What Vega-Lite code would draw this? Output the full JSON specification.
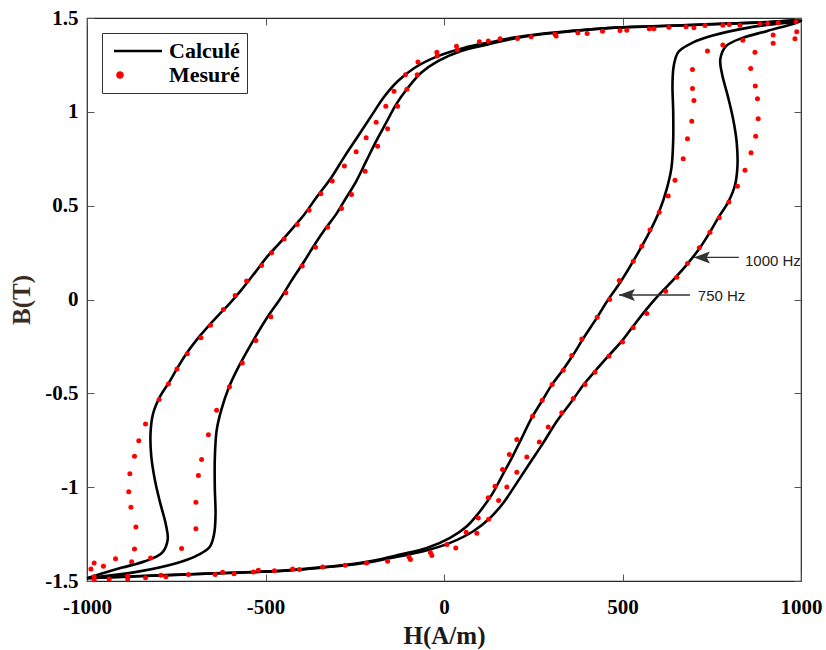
{
  "$schema": "https://vega.github.io/schema/vega-lite/v6.json",
  "autosize": {"type": "none"},
  "width": 714,
  "height": 563,
  "padding": {"left": 87, "top": 18, "right": 25, "bottom": 69},
  "background": "white",
  "config": {
    "view": {"stroke": "#262626", "strokeWidth": 1.2},
    "axis": {"grid": false, "domain": false, "labelFlush": false, "labelOverlap": false, "labelFont": "Liberation Serif", "labelFontWeight": "bold", "labelFontSize": 21, "labelColor": "#000000", "titleFont": "Liberation Serif", "titleFontWeight": "bold", "titleFontSize": 25, "tickColor": "#555555", "tickSize": -7, "tickWidth": 1}
  },
  "datasets": {
    "calc": [
      {"f":750,"i":1,"H":-1000,"B":-1.485},{"f":750,"i":2,"H":-900,"B":-1.477},{"f":750,"i":3,"H":-800,"B":-1.470},{"f":750,"i":4,"H":-700,"B":-1.463},{"f":750,"i":5,"H":-600,"B":-1.456},{"f":750,"i":6,"H":-460,"B":-1.446},{"f":750,"i":7,"H":-350,"B":-1.428},{"f":750,"i":8,"H":-273,"B":-1.413},{"f":750,"i":9,"H":-200,"B":-1.392},{"f":750,"i":10,"H":-123,"B":-1.359},{"f":750,"i":11,"H":-48,"B":-1.324},{"f":750,"i":12,"H":17,"B":-1.270},{"f":750,"i":13,"H":64,"B":-1.208},{"f":750,"i":14,"H":101,"B":-1.128},{"f":750,"i":15,"H":134,"B":-1.040},{"f":750,"i":16,"H":162,"B":-0.942},{"f":750,"i":17,"H":190,"B":-0.844},{"f":750,"i":18,"H":218,"B":-0.737},{"f":750,"i":19,"H":246,"B":-0.630},{"f":750,"i":20,"H":274,"B":-0.542},{"f":750,"i":21,"H":302,"B":-0.455},{"f":750,"i":22,"H":332,"B":-0.378},{"f":750,"i":23,"H":360,"B":-0.300},{"f":750,"i":24,"H":390,"B":-0.208},{"f":750,"i":25,"H":428,"B":-0.098},{"f":750,"i":26,"H":460,"B":0.000},{"f":750,"i":27,"H":493,"B":0.089},{"f":750,"i":28,"H":530,"B":0.204},{"f":750,"i":29,"H":577,"B":0.364},{"f":750,"i":30,"H":603,"B":0.470},{"f":750,"i":31,"H":624,"B":0.590},{"f":750,"i":32,"H":637,"B":0.700},{"f":750,"i":33,"H":642,"B":0.850},{"f":750,"i":34,"H":642,"B":1.000},{"f":750,"i":35,"H":640,"B":1.150},{"f":750,"i":36,"H":644,"B":1.250},{"f":750,"i":37,"H":657,"B":1.320},{"f":750,"i":38,"H":698,"B":1.370},{"f":750,"i":39,"H":750,"B":1.405},{"f":750,"i":40,"H":857,"B":1.450},{"f":750,"i":41,"H":1000,"B":1.485},
      {"f":750,"i":42,"H":900,"B":1.477},{"f":750,"i":43,"H":800,"B":1.470},{"f":750,"i":44,"H":700,"B":1.463},{"f":750,"i":45,"H":600,"B":1.456},{"f":750,"i":46,"H":460,"B":1.446},{"f":750,"i":47,"H":350,"B":1.428},{"f":750,"i":48,"H":273,"B":1.413},{"f":750,"i":49,"H":200,"B":1.392},{"f":750,"i":50,"H":123,"B":1.359},{"f":750,"i":51,"H":48,"B":1.324},{"f":750,"i":52,"H":-17,"B":1.270},{"f":750,"i":53,"H":-64,"B":1.208},{"f":750,"i":54,"H":-101,"B":1.128},{"f":750,"i":55,"H":-134,"B":1.040},{"f":750,"i":56,"H":-162,"B":0.942},{"f":750,"i":57,"H":-190,"B":0.844},{"f":750,"i":58,"H":-218,"B":0.737},{"f":750,"i":59,"H":-246,"B":0.630},{"f":750,"i":60,"H":-274,"B":0.542},{"f":750,"i":61,"H":-302,"B":0.455},{"f":750,"i":62,"H":-332,"B":0.378},{"f":750,"i":63,"H":-360,"B":0.300},{"f":750,"i":64,"H":-390,"B":0.208},{"f":750,"i":65,"H":-428,"B":0.098},{"f":750,"i":66,"H":-460,"B":0.000},{"f":750,"i":67,"H":-493,"B":-0.089},{"f":750,"i":68,"H":-530,"B":-0.204},{"f":750,"i":69,"H":-577,"B":-0.364},{"f":750,"i":70,"H":-603,"B":-0.470},{"f":750,"i":71,"H":-624,"B":-0.590},{"f":750,"i":72,"H":-637,"B":-0.700},{"f":750,"i":73,"H":-642,"B":-0.850},{"f":750,"i":74,"H":-642,"B":-1.000},{"f":750,"i":75,"H":-640,"B":-1.150},{"f":750,"i":76,"H":-644,"B":-1.250},{"f":750,"i":77,"H":-657,"B":-1.320},{"f":750,"i":78,"H":-698,"B":-1.370},{"f":750,"i":79,"H":-750,"B":-1.405},{"f":750,"i":80,"H":-857,"B":-1.450},{"f":750,"i":81,"H":-1000,"B":-1.485},
      {"f":1000,"i":1,"H":-1000,"B":-1.485},{"f":1000,"i":2,"H":-900,"B":-1.478},{"f":1000,"i":3,"H":-800,"B":-1.471},{"f":1000,"i":4,"H":-700,"B":-1.464},{"f":1000,"i":5,"H":-600,"B":-1.457},{"f":1000,"i":6,"H":-460,"B":-1.447},{"f":1000,"i":7,"H":-350,"B":-1.430},{"f":1000,"i":8,"H":-273,"B":-1.416},{"f":1000,"i":9,"H":-200,"B":-1.397},{"f":1000,"i":10,"H":-123,"B":-1.368},{"f":1000,"i":11,"H":-58,"B":-1.342},{"f":1000,"i":12,"H":17,"B":-1.297},{"f":1000,"i":13,"H":82,"B":-1.235},{"f":1000,"i":14,"H":129,"B":-1.164},{"f":1000,"i":15,"H":166,"B":-1.084},{"f":1000,"i":16,"H":204,"B":-0.977},{"f":1000,"i":17,"H":241,"B":-0.870},{"f":1000,"i":18,"H":278,"B":-0.764},{"f":1000,"i":19,"H":316,"B":-0.649},{"f":1000,"i":20,"H":358,"B":-0.542},{"f":1000,"i":21,"H":393,"B":-0.449},{"f":1000,"i":22,"H":423,"B":-0.382},{"f":1000,"i":23,"H":460,"B":-0.302},{"f":1000,"i":24,"H":498,"B":-0.222},{"f":1000,"i":25,"H":530,"B":-0.142},{"f":1000,"i":26,"H":568,"B":-0.050},{"f":1000,"i":27,"H":600,"B":0.020},{"f":1000,"i":28,"H":625,"B":0.070},{"f":1000,"i":29,"H":652,"B":0.125},{"f":1000,"i":30,"H":682,"B":0.190},{"f":1000,"i":31,"H":717,"B":0.276},{"f":1000,"i":32,"H":745,"B":0.359},{"f":1000,"i":33,"H":768,"B":0.435},{"f":1000,"i":34,"H":796,"B":0.519},{"f":1000,"i":35,"H":815,"B":0.609},{"f":1000,"i":36,"H":822,"B":0.711},{"f":1000,"i":37,"H":820,"B":0.835},{"f":1000,"i":38,"H":810,"B":0.960},{"f":1000,"i":39,"H":795,"B":1.084},{"f":1000,"i":40,"H":779,"B":1.200},{"f":1000,"i":41,"H":774,"B":1.280},{"f":1000,"i":42,"H":790,"B":1.350},{"f":1000,"i":43,"H":838,"B":1.395},{"f":1000,"i":44,"H":904,"B":1.430},{"f":1000,"i":45,"H":1000,"B":1.485},
      {"f":1000,"i":46,"H":900,"B":1.478},{"f":1000,"i":47,"H":800,"B":1.471},{"f":1000,"i":48,"H":700,"B":1.464},{"f":1000,"i":49,"H":600,"B":1.457},{"f":1000,"i":50,"H":460,"B":1.447},{"f":1000,"i":51,"H":350,"B":1.430},{"f":1000,"i":52,"H":273,"B":1.416},{"f":1000,"i":53,"H":200,"B":1.397},{"f":1000,"i":54,"H":123,"B":1.368},{"f":1000,"i":55,"H":58,"B":1.342},{"f":1000,"i":56,"H":-17,"B":1.297},{"f":1000,"i":57,"H":-82,"B":1.235},{"f":1000,"i":58,"H":-129,"B":1.164},{"f":1000,"i":59,"H":-166,"B":1.084},{"f":1000,"i":60,"H":-204,"B":0.977},{"f":1000,"i":61,"H":-241,"B":0.870},{"f":1000,"i":62,"H":-278,"B":0.764},{"f":1000,"i":63,"H":-316,"B":0.649},{"f":1000,"i":64,"H":-358,"B":0.542},{"f":1000,"i":65,"H":-393,"B":0.449},{"f":1000,"i":66,"H":-423,"B":0.382},{"f":1000,"i":67,"H":-460,"B":0.302},{"f":1000,"i":68,"H":-498,"B":0.222},{"f":1000,"i":69,"H":-530,"B":0.142},{"f":1000,"i":70,"H":-568,"B":0.050},{"f":1000,"i":71,"H":-600,"B":-0.020},{"f":1000,"i":72,"H":-625,"B":-0.070},{"f":1000,"i":73,"H":-652,"B":-0.125},{"f":1000,"i":74,"H":-682,"B":-0.190},{"f":1000,"i":75,"H":-717,"B":-0.276},{"f":1000,"i":76,"H":-745,"B":-0.359},{"f":1000,"i":77,"H":-768,"B":-0.435},{"f":1000,"i":78,"H":-796,"B":-0.519},{"f":1000,"i":79,"H":-815,"B":-0.609},{"f":1000,"i":80,"H":-822,"B":-0.711},{"f":1000,"i":81,"H":-820,"B":-0.835},{"f":1000,"i":82,"H":-810,"B":-0.960},{"f":1000,"i":83,"H":-795,"B":-1.084},{"f":1000,"i":84,"H":-779,"B":-1.200},{"f":1000,"i":85,"H":-774,"B":-1.280},{"f":1000,"i":86,"H":-790,"B":-1.350},{"f":1000,"i":87,"H":-838,"B":-1.395},{"f":1000,"i":88,"H":-904,"B":-1.430},{"f":1000,"i":89,"H":-1000,"B":-1.485}
    ],
    "meas": [
      {"H":986,"B":1.48},{"H":988,"B":1.427},{"H":983,"B":1.39},{"H":922,"B":1.409},{"H":922,"B":1.365},{"H":837,"B":1.382},{"H":781,"B":1.356},{"H":738,"B":1.324},{"H":696,"B":1.226},{"H":696,"B":1.125},{"H":700,"B":1.061},{"H":694,"B":0.95},{"H":682,"B":0.856},{"H":670,"B":0.75},{"H":647,"B":0.636},{"H":628,"B":0.551},{"H":603,"B":0.465},{"H":577,"B":0.37},{"H":554,"B":0.284},{"H":530,"B":0.204},{"H":491,"B":0.101},{"H":464,"B":0.0},{"H":429,"B":-0.094},{"H":386,"B":-0.21},{"H":358,"B":-0.298},{"H":334,"B":-0.377},{"H":303,"B":-0.453},{"H":275,"B":-0.537},{"H":248,"B":-0.622},{"H":204,"B":-0.746},{"H":183,"B":-0.826},{"H":164,"B":-0.906},{"H":143,"B":-0.995},{"H":124,"B":-1.057},{"H":96,"B":-1.164},{"H":62,"B":-1.24},{"H":8,"B":-1.306},{"H":-38,"B":-1.348},{"H":-98,"B":-1.372},
      {"H":871,"B":1.318},{"H":859,"B":1.231},{"H":872,"B":1.137},{"H":878,"B":1.07},{"H":880,"B":0.963},{"H":873,"B":0.87},{"H":860,"B":0.782},{"H":843,"B":0.689},{"H":822,"B":0.604},{"H":798,"B":0.519},{"H":771,"B":0.435},{"H":745,"B":0.359},{"H":715,"B":0.276},{"H":682,"B":0.192},{"H":652,"B":0.119},{"H":621,"B":0.044},{"H":568,"B":-0.075},{"H":530,"B":-0.151},{"H":500,"B":-0.226},{"H":462,"B":-0.302},{"H":423,"B":-0.387},{"H":395,"B":-0.453},{"H":362,"B":-0.528},{"H":330,"B":-0.604},{"H":292,"B":-0.68},{"H":267,"B":-0.759},{"H":232,"B":-0.839},{"H":204,"B":-0.92},{"H":176,"B":-0.999},{"H":153,"B":-1.071},{"H":125,"B":-1.171},{"H":92,"B":-1.245},{"H":33,"B":-1.324},{"H":-34,"B":-1.364},{"H":-94,"B":-1.386},
      {"H":-158,"B":-1.395},{"H":-217,"B":-1.404},{"H":-277,"B":-1.416},{"H":-340,"B":-1.425},{"H":-405,"B":-1.439},{"H":-424,"B":-1.436},{"H":-475,"B":-1.445},{"H":-520,"B":-1.443},{"H":-534,"B":-1.452},{"H":-588,"B":-1.461},{"H":-620,"B":-1.454},{"H":-641,"B":-1.466},{"H":-716,"B":-1.466},{"H":-779,"B":-1.478},{"H":-793,"B":-1.47},{"H":-836,"B":-1.483},{"H":-886,"B":-1.475},{"H":-886,"B":-1.489},{"H":-938,"B":-1.489},{"H":-980,"B":-1.478},{"H":-980,"B":-1.493},{"H":-989,"B":-1.436},{"H":-980,"B":-1.404},{"H":-954,"B":-1.421},{"H":-920,"B":-1.381},{"H":-875,"B":-1.398},{"H":-822,"B":-1.377},{"H":-867,"B":-1.329},{"H":-735,"B":-1.327},
      {"H":-863,"B":-1.212},{"H":-877,"B":-1.107},{"H":-883,"B":-1.025},{"H":-880,"B":-0.929},{"H":-867,"B":-0.835},{"H":-855,"B":-0.752},{"H":-836,"B":-0.663},{"H":-798,"B":-0.533},{"H":-772,"B":-0.45},{"H":-748,"B":-0.37},{"H":-719,"B":-0.289},{"H":-681,"B":-0.204},{"H":-654,"B":-0.137},{"H":-618,"B":-0.053},{"H":-585,"B":0.021},{"H":-553,"B":0.098},{"H":-511,"B":0.181},{"H":-483,"B":0.249},{"H":-448,"B":0.323},{"H":-411,"B":0.4},{"H":-378,"B":0.476},{"H":-345,"B":0.563},{"H":-313,"B":0.631},{"H":-279,"B":0.711},{"H":-246,"B":0.787},{"H":-218,"B":0.862},{"H":-190,"B":0.945},{"H":-163,"B":1.03},{"H":-140,"B":1.11},{"H":-108,"B":1.198},{"H":-73,"B":1.265},{"H":-20,"B":1.318},{"H":35,"B":1.35},
      {"H":-695,"B":-1.222},{"H":-695,"B":-1.08},{"H":-688,"B":-0.938},{"H":-679,"B":-0.853},{"H":-660,"B":-0.721},{"H":-637,"B":-0.59},{"H":-601,"B":-0.465},{"H":-565,"B":-0.338},{"H":-527,"B":-0.219},{"H":-485,"B":-0.092},{"H":-443,"B":0.036},{"H":-397,"B":0.178},{"H":-360,"B":0.279},{"H":-326,"B":0.385},{"H":-287,"B":0.485},{"H":-259,"B":0.56},{"H":-221,"B":0.684},{"H":-186,"B":0.817},{"H":-158,"B":0.91},{"H":-130,"B":1.03},{"H":-104,"B":1.12},{"H":-75,"B":1.198},{"H":-19,"B":1.297},{"H":37,"B":1.329},
      {"H":99,"B":1.374},{"H":124,"B":1.377},{"H":157,"B":1.39},{"H":206,"B":1.391},{"H":244,"B":1.4},{"H":311,"B":1.413},{"H":314,"B":1.404},{"H":375,"B":1.422},{"H":401,"B":1.418},{"H":444,"B":1.43},{"H":493,"B":1.434},{"H":512,"B":1.435},{"H":575,"B":1.443},{"H":588,"B":1.443},{"H":630,"B":1.451},{"H":678,"B":1.453},{"H":700,"B":1.448},{"H":731,"B":1.46},{"H":781,"B":1.462},{"H":799,"B":1.466},{"H":829,"B":1.462},{"H":885,"B":1.47},{"H":907,"B":1.471},{"H":936,"B":1.475}
    ],
    "ann": [
      {"label":"1000 Hz","H":826,"Htip":700,"B":0.224,"Ht":843,"Bt":0.203},
      {"label":"750 Hz","H":689,"Htip":490,"B":0.024,"Ht":711,"Bt":0.016}
    ]
  },
  "resolve": {"axis": {"x": "independent", "y": "independent"}},
  "layer": [
    {
      "data": {"name": "calc"},
      "mark": {"type": "line", "strokeWidth": 2.6, "interpolate": "catmull-rom"},
      "encoding": {
        "x": {"field": "H", "type": "quantitative", "scale": {"domain": [-1000, 1000], "nice": false, "zero": false},
          "axis": {"orient": "bottom", "values": [-1000, -500, 0, 500, 1000], "title": "H(A/m)", "labelPadding": 22, "titlePadding": 6, "titleColor": "#1a1a1a",
            "labelExpr": "(datum.value < 0 ? '-' : '') + format(abs(datum.value), '~g')"}},
        "y": {"field": "B", "type": "quantitative", "scale": {"domain": [-1.5, 1.5], "nice": false, "zero": false},
          "axis": {"orient": "left", "values": [-1.5, -1, -0.5, 0, 0.5, 1, 1.5], "title": "B(T)", "labelPadding": 16, "titlePadding": 10, "titleColor": "#3d2b1f",
            "labelExpr": "(datum.value < 0 ? '-' : '') + format(abs(datum.value), '~g')"}},
        "detail": {"field": "f"},
        "order": {"field": "i", "type": "quantitative"},
        "color": {"datum": "Calculé", "type": "nominal",
          "scale": {"domain": ["Calculé", "Mesuré"], "range": ["#000000", "#ff0000"]},
          "legend": {"title": null, "orient": "top-left", "offset": 15, "padding": 7, "rowPadding": 2,
            "strokeColor": "#333333", "fillColor": "white",
            "labelFont": "Liberation Serif", "labelFontWeight": "bold", "labelFontSize": 22, "labelColor": "#000000", "labelOffset": 38,
            "symbolType": "circle", "symbolSize": 144, "symbolStrokeWidth": 2.6,
            "encode": {"symbols": {"update": {
              "shape": {"signal": "datum.index === 1 ? 'circle' : 'M-1,0L7,0'"},
              "size": {"signal": "datum.index === 1 ? 25 : 144"},
              "fill": {"signal": "datum.index === 1 ? '#ff0000' : 'transparent'"},
              "stroke": {"signal": "datum.index === 1 ? 'transparent' : '#000000'"},
              "strokeWidth": {"value": 2.6},
              "opacity": {"value": 1}
            }}}}}
      }
    },
    {
      "data": {"name": "meas"},
      "mark": {"type": "point", "filled": true, "size": 25, "opacity": 1, "strokeWidth": 0},
      "encoding": {
        "x": {"field": "H", "type": "quantitative", "axis": {"orient": "top", "values": [-1000, -500, 0, 500, 1000], "labels": false, "title": null}},
        "y": {"field": "B", "type": "quantitative", "axis": {"orient": "right", "values": [-1.5, -1, -0.5, 0, 0.5, 1, 1.5], "labels": false, "title": null}},
        "color": {"datum": "Mesuré", "type": "nominal"}
      }
    },
    {
      "data": {"name": "ann"},
      "mark": {"type": "rule", "color": "#333333", "strokeWidth": 1.3},
      "encoding": {
        "x": {"field": "H", "type": "quantitative", "axis": null},
        "x2": {"field": "Htip"},
        "y": {"field": "B", "type": "quantitative", "axis": null}
      }
    },
    {
      "data": {"name": "ann"},
      "mark": {"type": "point", "shape": "M0,0L2,-0.75L1.6,0L2,0.75Z", "size": 256, "filled": true, "opacity": 1, "color": "#333333", "strokeWidth": 0},
      "encoding": {
        "x": {"field": "Htip", "type": "quantitative", "axis": null},
        "y": {"field": "B", "type": "quantitative", "axis": null}
      }
    },
    {
      "data": {"name": "ann"},
      "mark": {"type": "text", "align": "left", "baseline": "middle", "font": "Liberation Sans", "fontSize": 15, "color": "#222222"},
      "encoding": {
        "x": {"field": "Ht", "type": "quantitative", "axis": null},
        "y": {"field": "Bt", "type": "quantitative", "axis": null},
        "text": {"field": "label"}
      }
    }
  ]
}
